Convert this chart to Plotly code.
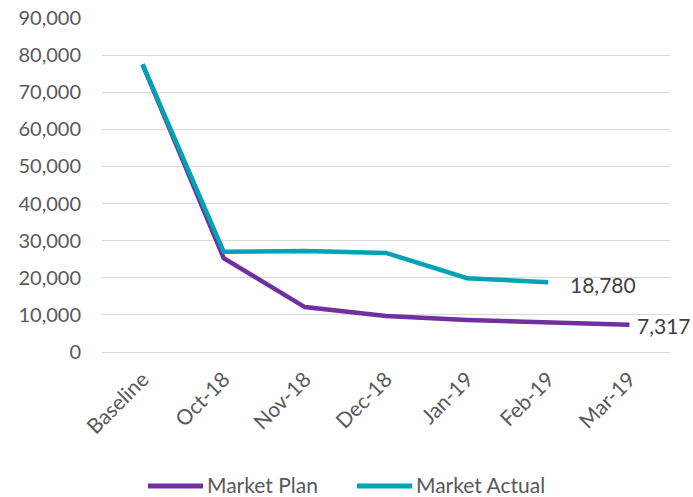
import plotly.graph_objects as go

categories = ["Baseline", "Oct-18", "Nov-18", "Dec-18", "Jan-19", "Feb-19", "Mar-19"]
plan_values = [77500, 25300, 12100, 9700, 8600, 7900, 7317]
actual_values = [77500, 27000, 27200, 26700, 19900, 18780, None]
y_ticks = list(range(0, 90001, 10000))
series_names = ["Market Plan", "Market Actual"]

PURPLE = "#7030A0"
TEAL = "#00A3B4"
TEXT = "#595959"
FONT = "Lato"
FS = 20

fig = go.Figure()
fig.add_trace(go.Scatter(x=categories, y=plan_values, mode="lines", name=series_names[0],
                         line=dict(color=PURPLE, width=4.5), showlegend=False))
fig.add_trace(go.Scatter(x=categories, y=actual_values, mode="lines", name=series_names[1],
                         line=dict(color=TEAL, width=4.5), showlegend=False))

# value labels at the end of each series
last_actual = max(i for i, v in enumerate(actual_values) if v is not None)
fig.add_annotation(x=categories[last_actual], y=actual_values[last_actual],
                   text=f"{actual_values[last_actual]:,}", showarrow=False,
                   xanchor="left", xshift=20, yshift=-2,
                   font=dict(family=FONT, size=21, color="#404040"))
fig.add_annotation(x=categories[-1], y=plan_values[-1],
                   text=f"{plan_values[-1]:,}", showarrow=False,
                   xanchor="left", xshift=6, yshift=-1,
                   font=dict(family=FONT, size=21, color="#404040"))

# custom legend with long line samples
legend_y = -0.401
legend_items = [(series_names[0], PURPLE, 0.081), (series_names[1], TEAL, 0.449)]
for name, color, x0 in legend_items:
    fig.add_shape(type="line", xref="paper", yref="paper",
                  x0=x0, x1=x0 + 0.097, y0=legend_y, y1=legend_y,
                  line=dict(color=color, width=5))
    fig.add_annotation(xref="paper", yref="paper", x=x0 + 0.100, y=legend_y,
                       text=name, showarrow=False, xanchor="left", yanchor="middle",
                       yshift=1, font=dict(family=FONT, size=21, color=TEXT))

fig.update_layout(
    width=693, height=497,
    margin=dict(l=102, r=23, t=18, b=145),
    paper_bgcolor="white", plot_bgcolor="white",
    font=dict(family=FONT, size=FS, color=TEXT),
    showlegend=False,
    xaxis=dict(type="category", tickangle=-45, showgrid=False, showline=False,
               ticks="", automargin=False, ticklabelstandoff=10,
               tickfont=dict(family=FONT, size=21, color=TEXT),
               range=[-0.5, len(categories) - 0.5]),
    yaxis=dict(range=[0, 90000], tickvals=y_ticks, tickformat=",d",
               showgrid=True, gridcolor="#D9D9D9", gridwidth=1.3,
               zeroline=True, zerolinecolor="#D9D9D9", zerolinewidth=1.3,
               ticks="", automargin=False, ticklabelstandoff=20,
               tickfont=dict(family=FONT, size=FS, color=TEXT)),
)

fig.write_html("out.html")
